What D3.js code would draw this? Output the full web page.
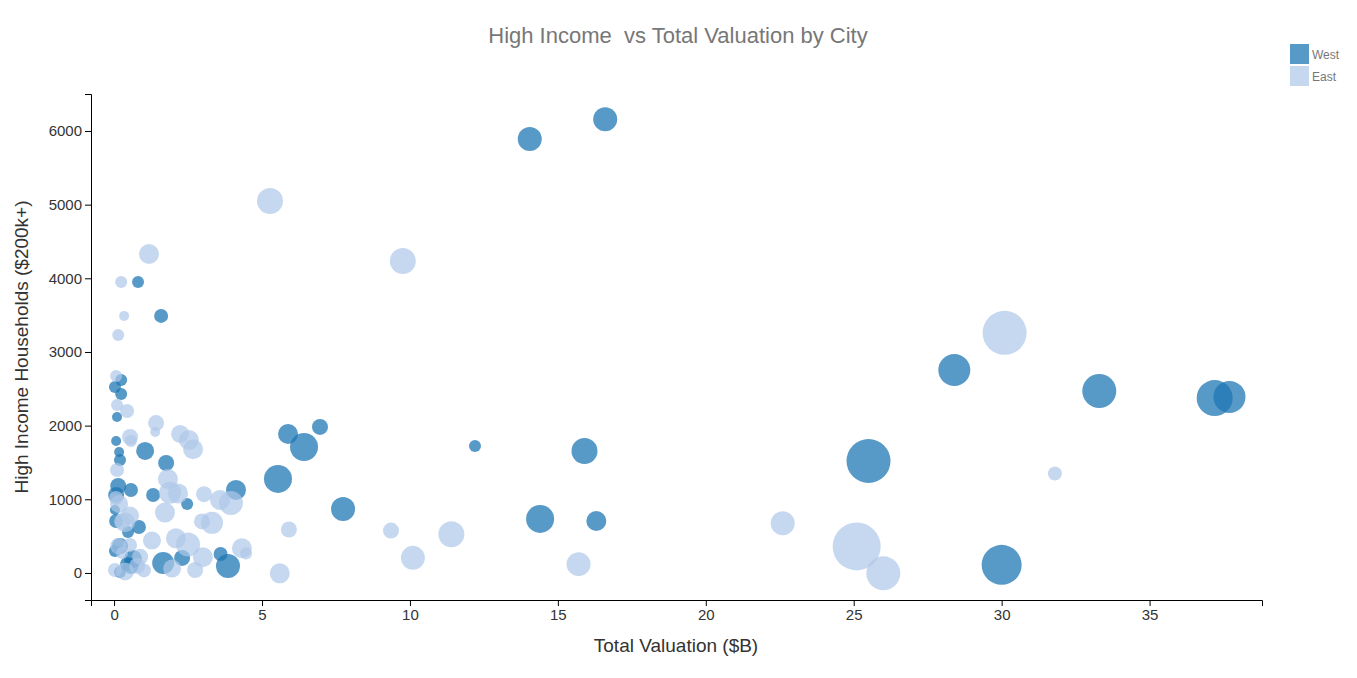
<!DOCTYPE html>
<html>
<head>
<meta charset="utf-8">
<script src="https://cdn.jsdelivr.net/npm/d3@7"></script>
<style>
body{margin:0;background:#fff;font-family:"Liberation Sans",Arial,sans-serif;}
.tick text{font-size:15px;fill:#333;}
</style>
</head>
<body>
<svg width="1357" height="678"></svg>
<script>
var regions = ["West", "East"];
var colors = ["#1f77b4", "#aec7e8"];

// West cities: valuation ($B), high income households, bubble size
var westX = [14.05,16.6,0.81,1.59,28.4,33.3,37.2,37.7,25.5,30.0,15.9,12.2,14.4,16.3,7.74,6.42,5.88,6.96,5.54,4.12,3.85,3.6,2.3,1.66,2.47,1.76,1.05,1.32,0.84,0.64,0.47,0.2,0.2,0.07,0.14,0.2,0.17,0.07,0.1,0.03,0.24,0.24,0.03,0.07,0.57,0.03,0.44,0.57];
var westY = [5890,6160,3950,3490,2755,2470,2375,2390,1520,110,1656,1724,733,706,869,1710,1887,1982,1276,1127,95,258,204,136,937,1493,1656,1059,624,190,557,366,14,1059,1181,1534,1642,1791,2117,2525,2620,2430,855,706,1127,299,122,95];
var westS = [144,144,36,49,256,289,324,256,484,400,169,36,196,100,144,196,100,64,196,100,144,49,64,121,36,64,81,49,49,81,36,64,36,64,64,36,25,25,25,36,36,36,25,49,49,36,49,64];

// East cities
var eastX = [5.27,9.76,1.18,0.24,0.34,0.14,30.1,31.8,25.1,26.0,22.6,15.7,11.4,10.1,9.36,5.91,5.6,4.32,4.46,3.95,3.58,3.31,2.97,3.04,2.67,2.53,2.23,1.42,1.39,1.82,1.89,2.16,1.72,2.09,2.5,2.74,3.0,1.96,1.28,1.01,0.44,0.54,0.57,0.1,0.07,0.17,0.27,0.37,0.54,0.1,0.07,0.14,0.03,0.37,0.78,0.88,0.27,0.54];
var eastY = [5050,4235,4330,3950,3490,3230,3260,1350,360,-5,675,120,525,205,575,590,-5,335,265,950,990,680,700,1070,1680,1805,1887,2035,1914,1275,1090,1080,820,470,385,40,215,60,440,35,2199,1846,1790,2280,2674,937,700,690,780,1398,1018,366,40,20,95,220,271,380];
var eastS = [169,169,100,36,25,36,484,49,576,289,144,144,169,144,64,64,100,100,36,144,100,121,64,64,100,100,81,64,25,100,121,100,100,100,144,64,100,81,81,49,49,64,36,36,36,81,64,100,81,49,49,64,49,81,64,64,36,49];

var ticksX = [0,5,10,15,20,25,30,35];
var ticksY = [0,1000,2000,3000,4000,5000,6000];

var svg = d3.select("svg"),
    plotLeft = 91, plotRight = 1262, plotTop = 94, plotBottom = 600;

var xScale = d3.scaleLinear().domain([-0.78, 38.8]).range([plotLeft, plotRight]),
    yScale = d3.scaleLinear().domain([-367, 6502]).range([plotBottom, plotTop]),
    rScale = d3.scaleSqrt().domain([0, 576]).range([0, 24]);

function rows(xs, ys, ss, reg){
    return xs.map(function(x, i){ return {x: x, y: ys[i], s: ss[i], region: reg}; });
}
var data = rows(westX, westY, westS, 0).concat(rows(eastX, eastY, eastS, 1));

svg.append("g").attr("transform", "translate(0," + plotBottom + ")")
    .call(d3.axisBottom(xScale).tickValues(ticksX).tickSizeOuter(6));
svg.append("g").attr("transform", "translate(" + plotLeft + ",0)")
    .call(d3.axisLeft(yScale).tickValues(ticksY).tickFormat(d3.format("d")).tickSizeOuter(6));
svg.selectAll(".domain, .tick line").attr("stroke", "#000");

svg.append("g").selectAll("circle")
    .data(data)
    .enter().append("circle")
    .attr("cx", function(d){ return xScale(d.x); })
    .attr("cy", function(d){ return yScale(d.y); })
    .attr("r", function(d){ return rScale(d.s); })
    .attr("fill", function(d){ return colors[d.region]; })
    .attr("fill-opacity", function(d){ return d.region === 0 ? 0.75 : 0.7; });

svg.append("text").attr("x", 678).attr("y", 43).attr("text-anchor", "middle")
    .style("font-size", "22px").style("fill", "#777").style("white-space", "pre")
    .text("High Income  vs Total Valuation by City");
svg.append("text").attr("x", 676).attr("y", 652).attr("text-anchor", "middle")
    .style("font-size", "19px").style("fill", "#333").text("Total Valuation ($B)");
svg.append("text").attr("transform", "translate(28,347) rotate(-90)").attr("text-anchor", "middle")
    .style("font-size", "19px").style("fill", "#333").text("High Income Households ($200k+)");

var legend = svg.append("g").selectAll("g").data(regions).enter().append("g")
    .attr("transform", function(d, i){ return "translate(1290," + (44 + i * 22) + ")"; });
legend.append("rect").attr("width", 19).attr("height", 20)
    .attr("fill", function(d, i){ return colors[i]; })
    .attr("fill-opacity", function(d, i){ return i === 0 ? 0.75 : 0.7; });
legend.append("text").attr("x", 22).attr("y", 15)
    .style("font-size", "12px").style("fill", "#777").text(function(d){ return d; });
</script>
</body>
</html>
